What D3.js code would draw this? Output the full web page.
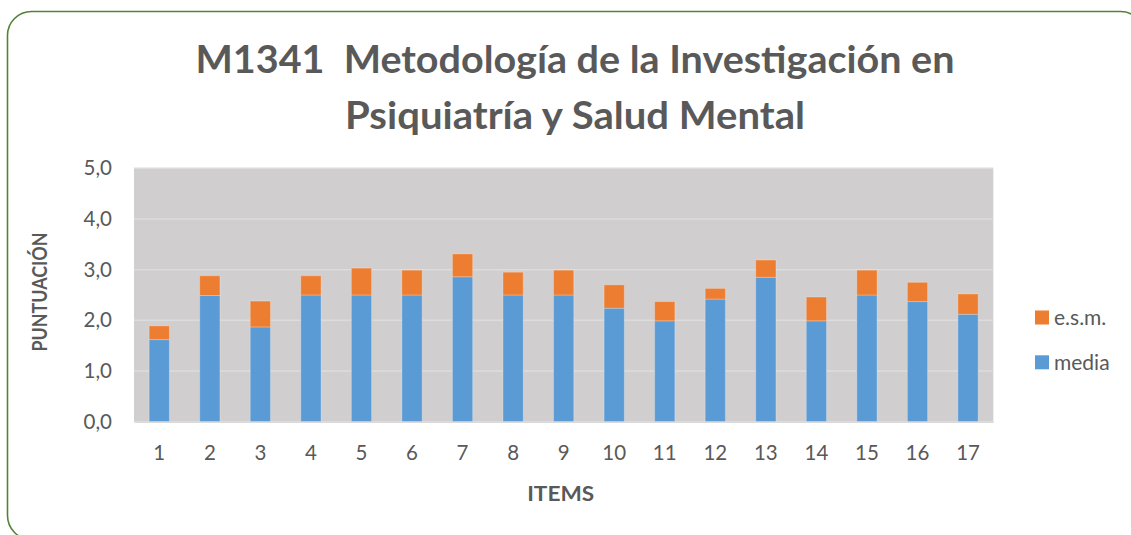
<!DOCTYPE html>
<html lang="es">
<head>
    <meta charset="utf-8">
    <title>M1341 Metodología de la Investigación</title>
    <style>
        body {
          margin:0;
          background:white;
          font-family: 'Lato', 'Open Sans', sans-serif;
        }
        svg text {
          fill:#595959;
        }
        .tick text {
          font-size:20.5px;
        }
        .mainTitle {
          font-size:38px;
          font-weight:bold;
          white-space:pre;
        }
        .axisTitle {
          font-size:20px;
          font-weight:bold;
        }
    </style>
</head>
<body>
<div id="canvas"></div>
<script src="https://cdnjs.cloudflare.com/ajax/libs/d3/7.8.5/d3.min.js"></script>
<script>
    // Data
    var items = ["1","2","3","4","5","6","7","8","9","10","11","12","13","14","15","16","17"];
    var media = [1.62, 2.49, 1.87, 2.50, 2.50, 2.50, 2.86, 2.50, 2.50, 2.24, 1.99, 2.42, 2.85, 1.99, 2.50, 2.37, 2.12];
    var esm   = [0.27, 0.39, 0.51, 0.38, 0.53, 0.49, 0.45, 0.45, 0.49, 0.46, 0.38, 0.21, 0.34, 0.47, 0.49, 0.38, 0.40];
    var yTicks = [0, 1, 2, 3, 4, 5];
    var seriesNames = ["media", "e.s.m."];
    var seriesColors = ["#5b9bd5", "#ed7d31"];
    var titleLines = ["M1341  Metodología de la Investigación en", "Psiquiatría y Salud Mental"];
    var titleWidths = [759, 460];

    var W = 1131, H = 535;
    var margin = {top:168.3, right:137.7, bottom:113.3, left:134},
        width = W - margin.left - margin.right,
        height = H - margin.top - margin.bottom;

    var rows = items.map(function(d, i) {
      return {item:d, "media":media[i], "e.s.m.":esm[i]};
    });
    var stacked = d3.stack().keys(seriesNames)(rows);

    var x = d3.scaleBand().domain(items).range([0, width]).paddingInner(0.6).paddingOuter(0.3),
        y = d3.scaleLinear().domain([0, 5]).range([height, 0]);
    var color = d3.scaleOrdinal().domain(seriesNames).range(seriesColors);
    var fmt = function(d) { return d3.format(".1f")(d).replace(".", ","); };

    var root = d3.select("#canvas").append("svg")
        .attr("width", W)
        .attr("height", H);

    // rounded green frame
    root.append("rect")
        .attr("x", 7.5).attr("y", 11.5)
        .attr("width", 1137).attr("height", 528)
        .attr("rx", 24).attr("ry", 24)
        .attr("fill", "white")
        .attr("stroke", "#548235")
        .attr("stroke-width", 1.6);

    // title
    root.selectAll("text.mainTitle")
        .data(titleLines)
      .enter().append("text")
        .attr("class", "mainTitle")
        .attr("x", 575)
        .attr("y", function(d, i) { return 72.5 + i * 56.6; })
        .attr("textLength", function(d, i) { return titleWidths[i]; })
        .attr("lengthAdjust", "spacingAndGlyphs")
        .style("text-anchor", "middle")
        .text(function(d) { return d; });

    var svg = root.append("g")
        .attr("transform", "translate(" + margin.left + "," + margin.top + ")");

    svg.append("rect")
        .attr("width", width)
        .attr("height", height)
        .attr("fill", "#d0cece");

    // gridlines
    svg.append("g")
        .selectAll("line")
        .data(yTicks.slice(1))
      .enter().append("line")
        .attr("x1", 0).attr("x2", width)
        .attr("y1", function(d) { return y(d); })
        .attr("y2", function(d) { return y(d); })
        .attr("stroke", "#dcdcdc")
        .attr("stroke-width", 1.5);

    // bars
    svg.selectAll("g.series")
        .data(stacked)
      .enter().append("g")
        .attr("class", "series")
        .attr("fill", function(d) { return color(d.key); })
      .selectAll("rect")
        .data(function(d) { return d; })
      .enter().append("rect")
        .attr("x", function(d) { return x(d.data.item); })
        .attr("y", function(d) { return y(d[1]); })
        .attr("width", x.bandwidth())
        .attr("height", function(d) { return y(d[0]) - y(d[1]); })
        .attr("stroke", "rgba(255,255,255,0.25)")
        .attr("stroke-width", 1);

    // axes
    var xAxis = svg.append("g")
        .attr("transform", "translate(0," + height + ")")
        .call(d3.axisBottom(x).tickSize(0).tickPadding(24));
    xAxis.select(".domain").attr("stroke", "#dadada").attr("stroke-width", 1.5);

    var yAxis = svg.append("g")
        .call(d3.axisLeft(y).tickValues(yTicks).tickFormat(fmt).tickSize(0).tickPadding(22));
    yAxis.select(".domain").remove();
    svg.selectAll(".tick text").attr("fill", "#595959").style("font-family", "Lato, sans-serif");

    // axis titles
    svg.append("text")
        .attr("class", "axisTitle")
        .attr("x", x.range()[1] / 2 - 3)
        .attr("y", height + 79)
        .attr("textLength", 67)
        .attr("lengthAdjust", "spacingAndGlyphs")
        .style("text-anchor", "middle")
        .text("ITEMS");

    svg.append("text")
        .attr("class", "axisTitle")
        .attr("transform", "rotate(-90)")
        .attr("x", -height / 2 + 3)
        .attr("y", 40 - margin.left + 7)
        .attr("textLength", 119)
        .attr("lengthAdjust", "spacingAndGlyphs")
        .style("text-anchor", "middle")
        .text("PUNTUACIÓN");

    // legend
    var legend = root.append("g")
        .selectAll("g")
        .data(["e.s.m.", "media"])
      .enter().append("g")
        .attr("transform", function(d, i) { return "translate(1035," + (310.5 + i * 44.8) + ")"; });
    legend.append("rect")
        .attr("width", 14).attr("height", 14)
        .attr("fill", function(d) { return color(d); });
    legend.append("text")
        .attr("x", 19)
        .attr("y", 7)
        .attr("dy", "0.35em")
        .style("font-size", "21px")
        .text(function(d) { return d; });
</script>
</body>
</html>
